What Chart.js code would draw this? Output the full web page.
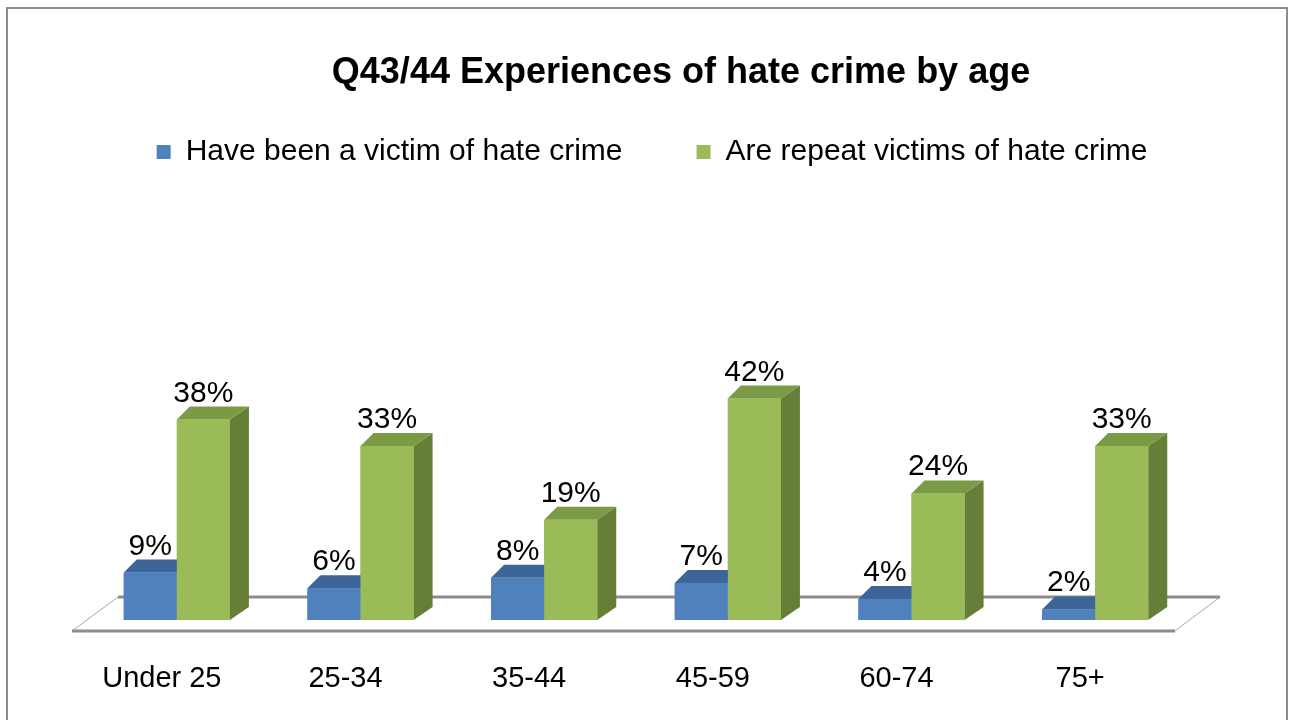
<!DOCTYPE html>
<html>
<head>
<meta charset="utf-8">
<script src="https://cdn.jsdelivr.net/npm/chart.js@4.4.1/dist/chart.umd.min.js"></script>
<style>
  html, body { margin: 0; padding: 0; background: #fff; }
  #wrap { width: 1289px; height: 720px; position: relative; }
</style>
</head>
<body>
<div id="wrap"><canvas id="chart"></canvas></div>
<script>
// Data
const ageGroups = ['Under 25', '25-34', '35-44', '45-59', '60-74', '75+'];
const victimValues = [9, 6, 8, 7, 4, 2];
const repeatValues = [38, 33, 19, 42, 24, 33];
const seriesNames = ['Have been a victim of hate crime', 'Are repeat victims of hate crime'];
const chartTitle = 'Q43/44 Experiences of hate crime by age';

const FONT = "'Liberation Sans', Arial, sans-serif";

// colours for front, top and side faces of each series
const faces = [
    { front: '#4f81bd', top: '#3d6597', side: '#385d8a' },
    { front: '#9bbb59', top: '#7b9a46', side: '#677e38' }
];

// depth of the fake 3D effect
const depthL = 13, depthR = 19, depthY = -13;

const bar3d = {
    id: 'bar3d',
    beforeDraw(chart) {
        const ctx = chart.ctx;
        ctx.save();
        // outer frame
        ctx.strokeStyle = '#8c8c8c';
        ctx.lineWidth = 2;
        ctx.strokeRect(7, 8, chart.width - 9, chart.height + 10);
        // title
        const area = chart.chartArea;
        ctx.fillStyle = '#000';
        ctx.font = 'bold 36px ' + FONT;
        ctx.textAlign = 'center';
        ctx.textBaseline = 'middle';
        ctx.fillText(chartTitle, area.left + area.width / 2 + 45, 73);
        ctx.restore();
    },
    beforeDatasetsDraw(chart) {
        // floor of the 3D plot
        const ctx = chart.ctx;
        const area = chart.chartArea;
        const y0 = chart.scales.y.getPixelForValue(0);
        const fl = area.left - 13, fr = area.right - 12, fy = y0 + 11;
        const bl = area.left + 33, br = area.right + 33, by = y0 - 23;
        ctx.save();
        ctx.beginPath();
        ctx.moveTo(fl, fy);
        ctx.lineTo(bl, by);
        ctx.lineTo(br, by);
        ctx.lineTo(fr, fy);
        ctx.closePath();
        ctx.fillStyle = '#fff';
        ctx.fill();
        ctx.strokeStyle = '#a6a6a6';
        ctx.lineWidth = 1;
        ctx.stroke();
        ctx.strokeStyle = '#8c8c8c';
        ctx.lineWidth = 3;
        ctx.beginPath();
        ctx.moveTo(fl, fy);
        ctx.lineTo(fr, fy);
        ctx.moveTo(bl, by);
        ctx.lineTo(br, by);
        ctx.stroke();
        ctx.restore();
    },
    afterDatasetsDraw(chart) {
        const ctx = chart.ctx;
        const metas = chart.data.datasets.map((d, i) => chart.getDatasetMeta(i));
        ctx.save();
        for (let i = 0; i < ageGroups.length; i++) {
            metas.forEach((meta, di) => {
                const bar = meta.data[i];
                const p = bar.getProps(['x', 'y', 'base', 'width'], true);
                const l = p.x - p.width / 2, r = p.x + p.width / 2;
                const c = faces[di];
                // side face
                ctx.fillStyle = c.side;
                ctx.beginPath();
                ctx.moveTo(r, p.y);
                ctx.lineTo(r + depthR, p.y + depthY);
                ctx.lineTo(r + depthR, p.base + depthY);
                ctx.lineTo(r, p.base);
                ctx.closePath();
                ctx.fill();
                // top face
                ctx.fillStyle = c.top;
                ctx.beginPath();
                ctx.moveTo(l, p.y);
                ctx.lineTo(l + depthL, p.y + depthY);
                ctx.lineTo(r + depthR, p.y + depthY);
                ctx.lineTo(r, p.y);
                ctx.closePath();
                ctx.fill();
                // front face
                ctx.fillStyle = c.front;
                ctx.fillRect(l, p.y, p.width, p.base - p.y);
            });
        }
        // value labels
        ctx.fillStyle = '#000';
        ctx.font = '30px ' + FONT;
        ctx.textAlign = 'center';
        ctx.textBaseline = 'alphabetic';
        metas.forEach((meta, di) => {
            const values = chart.data.datasets[di].data;
            meta.data.forEach((bar, i) => {
                const p = bar.getProps(['x', 'y'], true);
                ctx.fillText(values[i] + '%', p.x, p.y + depthY - 5);
            });
        });
        ctx.restore();
    }
};

new Chart(document.getElementById('chart'), {
    type: 'bar',
    data: {
        labels: ageGroups,
        datasets: [
            {
                label: seriesNames[0],
                data: victimValues,
                backgroundColor: faces[0].front,
                borderWidth: 0,
                categoryPercentage: 0.578,
                barPercentage: 1
            },
            {
                label: seriesNames[1],
                data: repeatValues,
                backgroundColor: faces[1].front,
                borderWidth: 0,
                categoryPercentage: 0.578,
                barPercentage: 1
            }
        ]
    },
    options: {
        responsive: true,
        maintainAspectRatio: false,
        animation: false,
        layout: { padding: { left: 20, right: 5, top: 63, bottom: 0 } },
        plugins: {
            title: { display: false },
            tooltip: { enabled: false },
            legend: {
                position: 'top',
                labels: {
                    boxWidth: 14,
                    boxHeight: 14,
                    padding: 74,
                    color: '#000',
                    font: { family: FONT, size: 30 }
                }
            }
        },
        scales: {
            x: {
                grid: { display: false, drawTicks: false },
                border: { display: false },
                ticks: {
                    color: '#000',
                    padding: 42,
                    labelOffset: -15,
                    font: { family: FONT, size: 29 }
                },
                afterFit: function (scale) { scale.height = 100; }
            },
            y: {
                position: 'right',
                min: 0,
                max: 84,
                grid: { display: false },
                border: { display: false },
                ticks: { display: false },
                afterFit: function (scale) { scale.width = 97; }
            },
            // empty spacer axis on the left, only used to place the plot area
            yLeft: {
                type: 'linear',
                position: 'left',
                grid: { display: false },
                border: { display: false },
                ticks: { display: false },
                afterFit: function (scale) { scale.width = 65; }
            }
        }
    },
    plugins: [bar3d]
});
</script>
</body>
</html>
